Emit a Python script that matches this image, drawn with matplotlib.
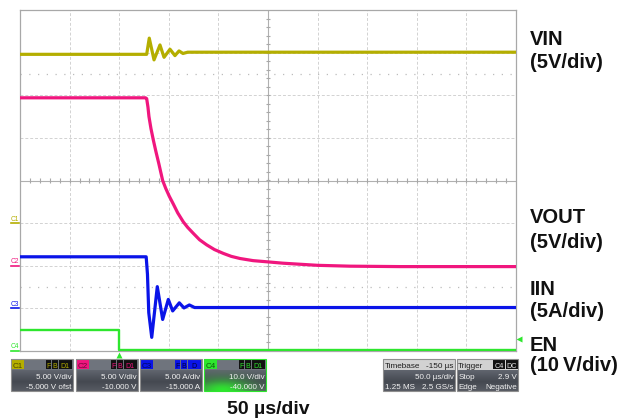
import numpy as np
import matplotlib
matplotlib.use('Agg')
import matplotlib.pyplot as plt
from matplotlib.patches import Rectangle

plt.rcParams['font.family'] = ['Liberation Sans', 'DejaVu Sans']

# ── 파형 데이터 (시간 µs, 진폭 div 단위, 화면에서 읽은 값) ─────────
vin_t = [-100, 27.7, 30.3, 35.1, 41.1, 45.2, 51.2, 56.2, 60.3, 64.3, 69.0, 400]
vin_v = [2.96, 2.96, 3.34, 2.83, 3.18, 2.89, 3.08, 2.93, 3.04, 2.98, 3.01, 3.01]

vout_t = [-100, 26.5, 27.7, 29.0, 30.0, 32.0, 34.4, 37.0, 40.0, 43.8, 47.0,
          50.5, 54.5, 59.0, 64.6, 69.0, 74.7, 81.0, 88.2, 96.0, 104.9, 113.0,
          121.8, 135.0, 150.3, 165.0, 178.9, 200.0, 232.6, 283.0, 400]
vout_v = [1.94, 1.94, 1.92, 1.72, 1.50, 1.22, 0.95, 0.68, 0.39, 0.00, -0.19,
          -0.37, -0.55, -0.76, -0.97, -1.10, -1.24, -1.39, -1.51, -1.62, -1.71, -1.78,
          -1.83, -1.88, -1.91, -1.94, -1.96, -1.99, -2.01, -2.02, -2.02]

iin_t = [-100, 27.2, 28.5, 29.8, 32.8, 38.4, 43.8, 49.5, 53.9, 60.6,
         65.3, 70.7, 76.0, 400]
iin_v = [-1.79, -1.79, -2.20, -3.10, -3.68, -2.49, -3.26, -2.79, -3.06,
         -2.87, -2.99, -2.92, -2.98, -2.98]

en_t = [-100, 0, 0, 400]
en_v = [-3.51, -3.51, -3.97, -3.97]

# ── 채널 설정 ────────────────────────────────────────────────
ch_names   = ['C1', 'C2', 'C3', 'C4']
ch_colors  = ['#B4AE00', '#F0167E', '#0A14E8', '#2EE62E']
ch_dark    = ['#4A4700', '#6A0838', '#00085A', '#0A5A0A']
ch_scale   = [5.0, 5.0, 5.0, 10.0]
ch_offset  = [-5.0, -10.0, -15.0, -40.0]
ch_scale_txt  = ['5.00 V/div', '5.00 V/div', '5.00 A/div', '10.0 V/div']
ch_offset_txt = ['-5.000 V ofst', '-10.000 V', '-15.000 A', '-40.000 V']
ch_badges  = [['F', 'B', 'D1'], ['F', 'B', 'D1'], ['F', 'B', 'D'], ['F', 'B', 'D1']]
trig_level = 2.9

labels_right = ['VIN', '(5V/div)', 'VOUT', '(5V/div)', 'IIN', '(5A/div)',
                'EN', '(10\u2009V/div)']

W, H = 631, 420
fig = plt.figure(figsize=(W / 100, H / 100), dpi=100, facecolor='white')

X0, X1, Y0, Y1 = 20, 516, 10, 351
ax = fig.add_axes([X0 / W, 1 - Y1 / H, (X1 - X0) / W, (Y1 - Y0) / H])
ax.set_xlim(-100, 400)
ax.set_ylim(-4, 4)
ax.set_xticks([]); ax.set_yticks([])
for s in ax.spines.values():
    s.set_color('#a8a8a8'); s.set_linewidth(0.9)

# ── 격자 ──
grid_kw = dict(color='#d2d2d2', lw=0.7, ls=(0, (3, 2)), zorder=1)
for t in np.arange(-50, 400, 50):
    if t != 150:
        ax.axvline(t, **grid_kw)
for d in range(-3, 4):
    if d != 0:
        ax.axhline(d, **grid_kw)
for d in (2.5, -2.5):
    ax.axhline(d, color='#bcbcbc', lw=0.9, ls=(0, (1, 6)), zorder=1)
ax.axvline(150, color='#b0b0b0', lw=0.8, zorder=1)
ax.axhline(0, color='#b0b0b0', lw=0.8, zorder=1)
ax.vlines(np.arange(-90, 400, 10), -0.05, 0.05, color='#a8a8a8', lw=0.8, zorder=1)
ax.hlines(np.arange(-3.8, 3.9, 0.2), 148, 152, color='#a8a8a8', lw=0.8, zorder=1)

# ── 파형 ──
trace_kw = dict(lw=2.3, zorder=3, solid_joinstyle='round', solid_capstyle='butt')
ax.plot(vin_t, vin_v, color=ch_colors[0], **trace_kw)
ax.plot(vout_t, vout_v, color=ch_colors[1], **trace_kw)
ax.plot(iin_t, iin_v, color=ch_colors[2], **trace_kw)
ax.plot(en_t, en_v, color=ch_colors[3], lw=1.7, zorder=3)

# ── 채널 기준 마커 (왼쪽) ──
ytr = ax.get_yaxis_transform()
for name, c, sc, off in zip(ch_names, ch_colors, ch_scale, ch_offset):
    d = off / sc
    ax.plot([-0.019, -0.002], [d, d], transform=ytr, clip_on=False, color=c, lw=1.2)
    ax.annotate(name, xy=(-0.019, d), xycoords=ytr, xytext=(0, 1.8),
                textcoords='offset points', fontsize=4.8, color=c,
                ha='left', va='baseline', annotation_clip=False)

# 트리거 마커
ax.plot([0], [-0.013], transform=ax.get_xaxis_transform(), clip_on=False,
        marker='^', ms=4, color=ch_colors[3], mec='none')
ax.plot([1.006], [(trig_level + ch_offset[3]) / ch_scale[3]], transform=ytr,
        clip_on=False, marker='<', ms=4, color=ch_colors[3], mec='none')

# ── 오버레이 (픽셀 좌표) ──
ov = fig.add_axes([0, 0, 1, 1], zorder=5)
ov.patch.set_alpha(0)
ov.axis('off')


def body_grad(x, y0, w, h, top='#60656e', mid='#454951', bot='#575b63', glow=None):
    n = 40
    cs = [np.array(matplotlib.colors.to_rgb(c)) for c in (top, mid, bot)]
    s = np.linspace(0, 1, n)[:, None]
    col = np.where(s < 0.55, cs[0] + (cs[1] - cs[0]) * (s / 0.55),
                   cs[1] + (cs[2] - cs[1]) * ((s - 0.55) / 0.45))
    img = np.repeat(col[:, None, :], 60, axis=1)
    if glow is not None:
        gx = np.linspace(0, 1, 60)[None, :]
        wgt = np.exp(-(((gx - 0.3) / 0.45) ** 2 + ((s - 1.0) / 0.55) ** 2))
        g = np.array(matplotlib.colors.to_rgb(glow))
        img = img * (1 - wgt[..., None]) + g * wgt[..., None]
    ov.imshow(np.clip(img, 0, 1), extent=(x, x + w, y0 + h, y0),
              aspect='auto', interpolation='bilinear', zorder=1)


BY0, BY1, HY = 358.7, 391.0, 370.0
txt_kw = dict(fontsize=5.8, color='#f2f2f2', va='baseline')
box_x = [11, 76, 140, 204]
for i, bx in enumerate(box_x):
    bw = 62
    body_grad(bx, HY, bw, BY1 - HY, glow=ch_colors[3] if i == 3 else None)
    ov.add_patch(Rectangle((bx, BY0), bw, HY - BY0, fc='#6f747d', ec='none', zorder=2))
    ov.add_patch(Rectangle((bx, BY0), bw, BY1 - BY0, fc='none',
                           ec=ch_colors[3] if i == 3 else '#8e8e8e', lw=0.8, zorder=4))
    ov.add_patch(Rectangle((bx + 0.6, BY0 + 0.6), 12.5, 10.0, fc=ch_colors[i], ec='none', zorder=3))
    ov.text(bx + 1.6, HY - 2.0, ch_names[i], fontsize=5.8, color=ch_dark[i], va='baseline', zorder=4)
    bxs = [bx + 34.7, bx + 41.3, bx + 48.0]
    bws = [5.3, 5.3, 12.7]
    for lab, px, pw in zip(ch_badges[i], bxs, bws):
        fc = ch_colors[i] if i == 2 else '#111111'
        tc = '#000033' if i == 2 else ch_colors[i]
        ov.add_patch(Rectangle((px, BY0 + 1.5), pw, 8.5, fc=fc, ec='none', zorder=3))
        ov.text(px + pw / 2, HY - 2.3, lab, fontsize=5.0, color=tc, ha='center',
                va='baseline', zorder=4)
    ov.text(bx + bw - 1.5, 378.6, ch_scale_txt[i], ha='right', zorder=4, **txt_kw)
    ov.text(bx + bw - 1.5, 388.6, ch_offset_txt[i], ha='right', zorder=4, **txt_kw)

# 타임베이스 / 트리거 박스
tb_x, tb_w = 383.3, 71.7
tr_x, tr_w = 456.7, 61.6
for bx, bw in ((tb_x, tb_w), (tr_x, tr_w)):
    body_grad(bx, HY, bw, BY1 - HY)
    ov.add_patch(Rectangle((bx, BY0), bw, HY - BY0, fc='#d2d2d2', ec='none', zorder=2))
    ov.add_patch(Rectangle((bx, BY0), bw, BY1 - BY0, fc='none', ec='#8e8e8e', lw=0.8, zorder=4))

hdr_kw = dict(fontsize=5.9, color='#1e1e1e', va='baseline', zorder=4)
ov.text(tb_x + 1.5, HY - 2.0, 'Timebase', ha='left', **hdr_kw)
ov.text(tb_x + tb_w - 1.5, HY - 2.0, '-150 µs', ha='right', **hdr_kw)
ov.text(tb_x + tb_w - 1.5, 378.6, '50.0 µs/div', ha='right', zorder=4, **txt_kw)
ov.text(tb_x + 1.5, 388.6, '1.25 MS', ha='left', zorder=4, **txt_kw)
ov.text(tb_x + tb_w - 1.5, 388.6, '2.5 GS/s', ha='right', zorder=4, **txt_kw)

ov.text(tr_x + 1.5, HY - 2.0, 'Trigger', ha='left', **hdr_kw)
for lab, px in (('C4', tr_x + 36.6), ('DC', tr_x + 49.0)):
    ov.add_patch(Rectangle((px, BY0 + 1.2), 12.0, 9.0, fc='#111111', ec='none', zorder=3))
    ov.text(px + 6.0, HY - 2.3, lab, fontsize=5.2, color='#e8e8e8', ha='center',
            va='baseline', zorder=4)
ov.text(tr_x + 1.5, 378.6, 'Stop', ha='left', zorder=4, **txt_kw)
ov.text(tr_x + tr_w - 1.5, 378.6, '2.9 V', ha='right', zorder=4, **txt_kw)
ov.text(tr_x + 1.5, 388.6, 'Edge', ha='left', zorder=4, **txt_kw)
ov.text(tr_x + tr_w - 1.5, 388.6, 'Negative', ha='right', zorder=4, **txt_kw)

# ── 오른쪽 라벨 ──
label_y = [45, 68.5, 223.3, 248.3, 295, 317.3, 351, 371]
for txt, yb in zip(labels_right, label_y):
    ov.text(530, yb, txt, fontsize=14.5, fontweight='bold', color='#111111',
            ha='left', va='baseline', zorder=4)

ov.text(268.7, 414, '50 µs/div', fontsize=14, fontweight='bold', color='#111111',
        ha='center', va='baseline', zorder=4)

ov.set_xlim(0, W)
ov.set_ylim(H, 0)

fig.savefig('out.png', dpi=100, facecolor='white')
